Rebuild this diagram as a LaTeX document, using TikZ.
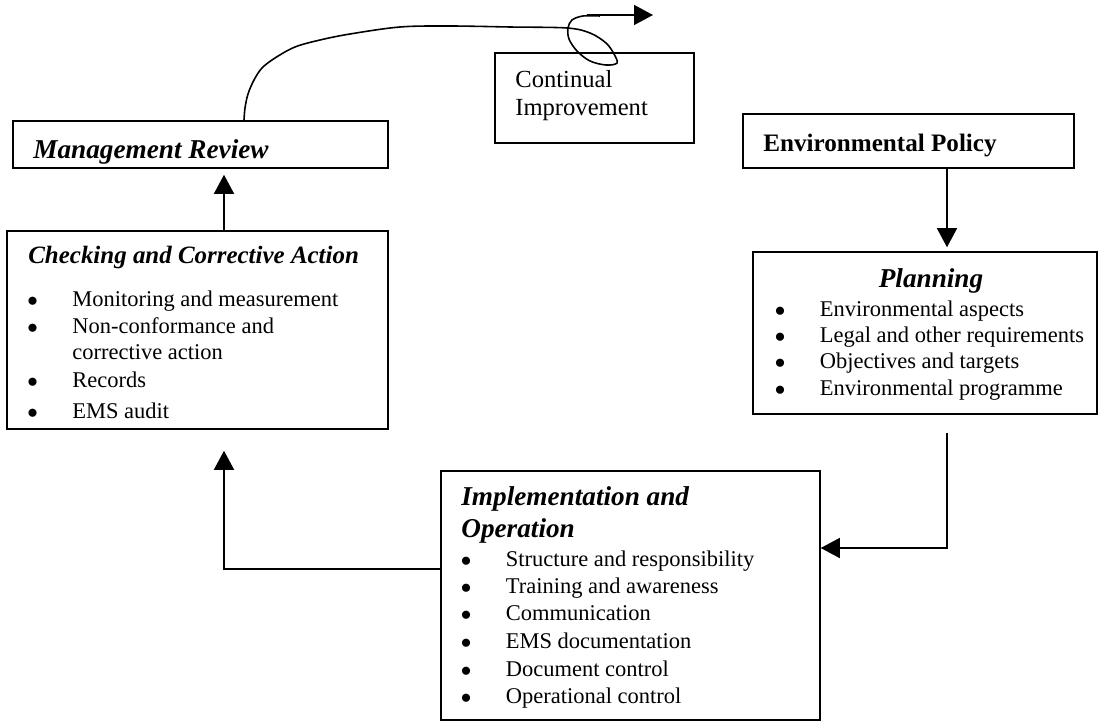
\documentclass[tikz,border=0pt]{standalone}
\usepackage{fontspec}
\setmainfont{Liberation Serif}
\usetikzlibrary{arrows.meta,positioning}
\newcommand{\bul}[1]{\makebox[0.9cm][l]{$\bullet$}#1}

\begin{document}
\begin{tikzpicture}[x=0.02cm, y=-0.02cm,
		box/.style={draw, line width=0.9pt, inner sep=0pt},
		txt/.style={anchor=base west, inner sep=0pt, font=\fontsize{12.8pt}{15pt}\selectfont},
		head/.style={anchor=base west, inner sep=0pt, font=\fontsize{#1pt}{#1pt}\selectfont\bfseries\itshape},
		arr/.style={line width=0.8pt, -{Triangle[length=0.38cm,width=0.4cm]}}]
	\useasboundingbox (0,0) rectangle (1099,723);
	% Boxes
	\node [box, minimum width=7.5cm, minimum height=0.94cm] (mgmt) at (200.5,144.5) {};
	\node [box, minimum width=3.98cm, minimum height=1.8cm] (cont) at (594.5,98) {};
	\node [box, minimum width=6.62cm, minimum height=1.08cm] (policy) at (908.5,141) {};
	\node [box, minimum width=6.88cm, minimum height=3.24cm] (plan) at (925,333) {};
	\node [box, minimum width=7.62cm, minimum height=3.96cm] (check) at (197.5,330) {};
	\node [box, minimum width=7.58cm, minimum height=4.98cm] (impl) at (630.5,595.5) {};
	% Titles
	\begin{scope}
		\clip (13,121) rectangle (388,163);
		\node [head=15.5] (mgmtT) at (33,158) {Management Review};
	\end{scope}
	\node [txt, font=\fontsize{14pt}{14pt}\selectfont] (contA) at (515,88) {Continual};
	\node [txt, font=\fontsize{14pt}{14pt}\selectfont] (contB) at (515,115) {Improvement};
	\node [txt, font=\fontsize{14.3pt}{14pt}\selectfont\bfseries] (policyT) at (763,152) {Environmental Policy};
	\node [head=15.5, anchor=base] (planT) at (931,287) {Planning};
	\node [head=14.2] (checkT) at (28,263) {Checking and Corrective Action};
	\node [head=15.5] (implA) at (461,505) {Implementation and};
	\node [head=15.5] (implB) at (461,537) {Operation};
	% Bullet lists
	\foreach \t/\y [count=\i] in {{Monitoring and measurement}/306,{Non-conformance and}/333,Records/387,{EMS audit}/418}
		\node [txt] (check\i) at (27,\y) {\bul{\t}};
	\node [txt] (check5) at (72,359) {corrective action};
	\begin{scope}
		\clip (753,252) rectangle (1097,402);
		\foreach \t/\y [count=\i] in {{Environmental aspects}/316,{Legal and other requirements}/342,{Objectives and targets}/368,{Environmental programme}/395}
			\node [txt] (plan\i) at (774.5,\y) {\bul{\t}};
	\end{scope}
	\foreach \t/\y [count=\i] in {{Structure and responsibility}/566,{Training and awareness}/593,Communication/620,{EMS documentation}/648,{Document control}/676,{Operational control}/703}
		\node [txt] (impl\i) at (460.5,\y) {\bul{\t}};
	% Arrows
	\coordinate (upL) at (224,0);
	\coordinate (dnR) at (947,0);
	\coordinate (pr) at (947,548);
	\coordinate (pl) at (224,569);
	\draw [arr, shorten >=0.12cm] (check.north -| upL) -- (mgmt.south -| upL);
	\draw [arr, shorten >=0.08cm] (policy.south -| dnR) -- (plan.north -| dnR);
	\draw [arr] ([yshift=-0.36cm]plan.south -| pr) -- (pr) -- (impl.east |- pr);
	\draw [arr, shorten >=0.42cm] (impl.west |- pl) -- (pl) -- (check.south -| pl);
	% Continual improvement swirl
	\coordinate (cv) at (244,0);
	\coordinate (ciS) at (587,15);
	\coordinate (ciE) at (653,15);
	\draw [line width=0.9pt] plot [smooth, tension=0.55] coordinates {(mgmt.north -| cv) (245,108) (248,94) (254,80) (262,68) (275,58) (295,47) (320,40) (350,34) (400,27) (450,26) (510,27) (567,28) (590,33) (606,43) (614,54) (617,63) (606,65) (590,61) (577,51) (569,39) (568,28) (572,20) (583,16) (600,16)};
	\draw [arr] (ciS) -- (ciE);
\end{tikzpicture}
\end{document}
